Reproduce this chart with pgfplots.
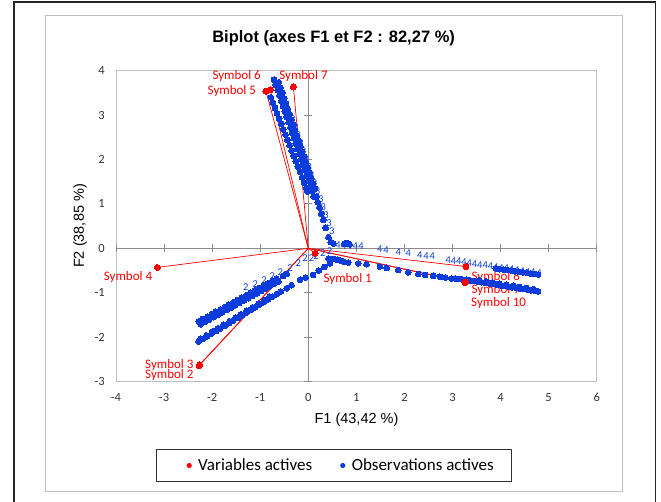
\documentclass[border=0pt]{standalone}
\usepackage{pgfplots}
\pgfplotsset{compat=1.18}
\usepackage{pgfplotstable}
\usepackage{fontspec}
\setmainfont{Carlito}
\newfontfamily\arialf{Liberation Sans}
\definecolor{obsblue}{RGB}{10,60,220}
\definecolor{varred}{RGB}{255,0,0}
\definecolor{boxgray}{RGB}{191,191,191}
\definecolor{zerogray}{RGB}{140,140,140}

\pgfplotstableread{
x y
-0.780 3.40
-0.737 3.28
-0.693 3.16
-0.650 3.04
-0.606 2.92
-0.563 2.80
-0.520 2.68
-0.476 2.56
-0.433 2.44
-0.389 2.32
-0.346 2.20
-0.303 2.08
-0.259 1.96
-0.216 1.84
-0.172 1.72
-0.129 1.60
-0.086 1.48
-0.042 1.36
-0.013 1.28
-0.713 3.80
-0.675 3.68
-0.638 3.56
-0.600 3.44
-0.563 3.32
-0.525 3.20
-0.487 3.08
-0.450 2.96
-0.412 2.84
-0.374 2.72
-0.337 2.60
-0.299 2.48
-0.261 2.36
-0.224 2.24
-0.186 2.12
-0.149 2.00
-0.111 1.88
-0.073 1.76
-0.036 1.64
0.002 1.52
0.040 1.40
0.077 1.28
0.115 1.16
-0.614 3.74
-0.576 3.62
-0.539 3.50
-0.501 3.38
-0.464 3.26
-0.426 3.14
-0.388 3.02
-0.351 2.90
-0.313 2.78
-0.275 2.66
-0.238 2.54
-0.200 2.42
-0.162 2.30
-0.125 2.18
-0.087 2.06
-0.050 1.94
-0.012 1.82
0.026 1.70
0.063 1.58
0.101 1.46
0.139 1.34
0.17 1.16
0.20 1.04
0.23 0.92
0.27 0.78
0.31 0.64
0.36 0.46
0.42 0.25
0.47 0.14
0.52 0.11
0.75 0.10
0.80 0.12
0.86 0.09
3.90 -0.45
3.98 -0.47
4.06 -0.48
4.14 -0.49
4.22 -0.50
4.30 -0.52
4.38 -0.53
4.46 -0.54
4.54 -0.55
4.62 -0.57
4.70 -0.58
4.78 -0.59
0.42 -0.23
0.52 -0.24
0.60 -0.26
0.66 -0.27
0.74 -0.30
0.83 -0.32
1.04 -0.34
1.21 -0.36
1.49 -0.41
1.63 -0.44
1.87 -0.49
2.08 -0.54
2.29 -0.58
2.43 -0.60
2.60 -0.62
2.74 -0.64
2.85 -0.66
2.98 -0.68
3.06 -0.68
3.12 -0.69
3.20 -0.70
3.29 -0.71
3.36 -0.722
3.44 -0.736
3.52 -0.750
3.60 -0.764
3.68 -0.778
3.76 -0.792
3.84 -0.806
3.92 -0.820
4.00 -0.834
4.08 -0.848
4.16 -0.862
4.24 -0.876
4.32 -0.890
4.40 -0.904
4.48 -0.918
4.56 -0.932
4.64 -0.946
4.72 -0.960
4.78 -0.970
3.56 -0.72
3.70 -0.745
3.84 -0.77
3.98 -0.795
4.12 -0.82
4.26 -0.845
4.40 -0.87
4.54 -0.895
4.68 -0.92
-2.28 -2.100
-2.19 -2.041
-2.10 -1.982
-2.01 -1.922
-1.92 -1.863
-1.83 -1.804
-1.74 -1.745
-1.65 -1.685
-1.56 -1.626
-1.47 -1.567
-1.38 -1.508
-1.29 -1.448
-1.20 -1.389
-1.11 -1.330
-1.02 -1.271
-0.93 -1.212
-0.84 -1.152
-0.75 -1.093
-0.66 -1.034
-0.57 -0.974
-0.45 -0.90
-0.35 -0.83
-0.17 -0.71
-0.06 -0.66
0.10 -0.60
0.22 -0.50
0.33 -0.42
0.45 -0.34
-2.24 -2.039
-2.12 -1.960
-2.00 -1.881
-1.88 -1.802
-1.76 -1.723
-1.64 -1.644
-1.52 -1.566
-1.40 -1.487
-1.28 -1.408
-1.16 -1.329
-1.04 -1.250
-0.92 -1.171
-0.80 -1.091
-2.28 -1.645
-2.19 -1.591
-2.10 -1.538
-2.01 -1.484
-1.92 -1.431
-1.83 -1.377
-1.74 -1.324
-1.65 -1.270
-1.56 -1.216
-1.47 -1.163
-1.38 -1.109
-1.29 -1.056
-1.20 -1.002
-1.11 -0.949
-1.02 -0.895
-0.93 -0.841
-0.84 -0.788
-0.75 -0.734
-0.66 -0.681
-2.24 -1.711
-2.15 -1.658
-2.06 -1.604
-1.97 -1.551
-1.88 -1.497
-1.79 -1.443
-1.70 -1.390
-1.61 -1.336
-1.52 -1.283
-1.43 -1.229
-1.34 -1.176
-1.25 -1.122
-1.16 -1.068
-1.07 -1.015
-0.98 -0.961
-0.89 -0.908
-0.80 -0.854
-0.71 -0.801
-0.62 -0.747
-0.52 -0.62
-0.45 -0.58
}\obsdata

\pgfplotstableread{
x y lab
0.62 0.07 4
0.74 0.06 4
0.86 0.06 4
0.98 0.05 4
1.10 0.04 4
1.49 -0.01 4
1.62 -0.03 4
1.87 -0.08 4
2.08 -0.11 4
2.32 -0.15 4
2.45 -0.17 4
2.58 -0.18 4
2.91 -0.26 4
3.02 -0.28 4
3.13 -0.29 4
3.24 -0.31 4
3.35 -0.33 4
3.46 -0.35 4
3.57 -0.37 4
3.68 -0.38 4
3.79 -0.40 4
3.90 -0.42 4
4.01 -0.44 4
4.12 -0.45 4
4.23 -0.47 4
4.34 -0.49 4
4.45 -0.51 4
4.56 -0.53 4
4.67 -0.54 4
4.80 -0.56 4
-1.30 -0.88 2
-1.10 -0.80 2
-0.92 -0.72 2
-0.75 -0.62 2
-0.58 -0.53 2
-0.38 -0.45 2
-0.21 -0.34 2
-0.07 -0.23 2
0.07 -0.23 2
0.16 -0.18 2
0.30 -0.10 2
0.44 -0.06 2
-0.32 2.90 3
-0.26 2.72 3
-0.21 2.54 3
-0.15 2.36 3
-0.10 2.18 3
-0.04 2.00 3
0.02 1.82 3
0.07 1.64 3
0.13 1.46 3
0.19 1.28 3
0.26 1.10 3
0.31 0.92 3
0.37 0.74 3
0.43 0.56 3
0.49 0.38 3
}\obslabels

\pgfplotstableread{
x y
0.14 -0.11
-2.27 -2.64
-2.26 -2.62
-3.14 -0.43
-0.88 3.54
-0.79 3.57
-0.31 3.64
3.28 -0.41
3.26 -0.77
3.27 -0.76
}\vardata

\begin{document}
\begin{tikzpicture}
\useasboundingbox (0pt,0pt) rectangle (661pt,502pt);
\fill[white] (0pt,0pt) rectangle (661pt,502pt);
\draw[black!85, line width=1.5pt] (14pt,-3pt) -- (14pt,500.2pt) -- (655.7pt,500.2pt) -- (655.7pt,-3pt);
\draw[boxgray, line width=0.9pt] (45.6pt,10.3pt) rectangle (622.3pt,487pt);

\begin{axis}[
  at={(116pt,120.5pt)}, anchor=south west,
  scale only axis, width=480.7pt, height=310.8pt,
  xmin=-4, xmax=6, ymin=-3, ymax=4,
  xtick={-4,-3,...,6}, ytick={-3,-2,...,4},
  axis line style={draw=boxgray, line width=0.9pt},
  major tick length=0pt,
  /pgf/number format/assume math mode=true,
  tick label style={font=\fontsize{12.5}{14}\selectfont, text=black!80},
  xticklabel style={yshift=-8.3pt},
  yticklabel style={xshift=-7.8pt},
  clip=false,
  legend columns=2,
  legend cell align=left,
  legend style={
    at={(0.4535,-0.2703)}, anchor=center,
    draw=black!80, line width=0.8pt, fill=white,
    inner xsep=14.4pt, inner ysep=6pt,
    font=\fontsize{17}{20}\selectfont,
    nodes={inner xsep=3pt, inner ysep=3pt},
    /tikz/every odd column/.append style={column sep=3.4pt},
    /tikz/every even column/.append style={column sep=9.5pt},
  },
]
\addlegendimage{legend image code/.code={\path[draw=none,fill=none] (-18pt,-2.6pt) rectangle (2.6pt,2.6pt); \fill[varred, draw=none] (0pt,0pt) circle (2.6pt);}}
\addlegendentry{Variables actives}
\addlegendimage{legend image code/.code={\path[draw=none,fill=none] (-18pt,-2.6pt) rectangle (2.6pt,2.6pt); \fill[obsblue, draw=none] (0pt,0pt) circle (2.6pt);}}
\addlegendentry{Observations actives}

% zero lines with cross ticks
\draw[zerogray, line width=0.8pt] (axis cs:0,-3) -- (axis cs:0,4);
\draw[zerogray, line width=0.8pt] (axis cs:-4,0) -- (axis cs:6,0);
\pgfplotsinvokeforeach{-3,-2,-1,1,2,3,4}{\draw[zerogray, line width=0.8pt] ([xshift=-4pt]axis cs:0,#1) -- ([xshift=4pt]axis cs:0,#1);}
\pgfplotsinvokeforeach{-4,-3,-2,-1,1,2,3,4,5,6}{\draw[zerogray, line width=0.8pt] ([yshift=-4pt]axis cs:#1,0) -- ([yshift=4pt]axis cs:#1,0);}

% observations
\addplot[forget plot, only marks, mark=*, mark size=2.9pt, color=obsblue, mark options={draw=obsblue, fill=obsblue, line width=0pt}] table[x=x,y=y] {\obsdata};
\addplot[forget plot, only marks, mark=none, nodes near coords, point meta=explicit symbolic,
  every node near coord/.append style={anchor=center, inner sep=0pt, text=obsblue, font=\fontsize{10.5}{11}\selectfont}]
  table[x=x,y=y,meta=lab] {\obslabels};

% variables: vectors from origin
\addplot[forget plot, varred, line width=0.7pt] coordinates {(0,0) (0.14,-0.11)};
\addplot[forget plot, varred, line width=0.7pt] coordinates {(0,0) (-2.27,-2.64)};
\addplot[forget plot, varred, line width=0.7pt] coordinates {(0,0) (-2.26,-2.62)};
\addplot[forget plot, varred, line width=0.7pt] coordinates {(0,0) (-3.14,-0.43)};
\addplot[forget plot, varred, line width=0.7pt] coordinates {(0,0) (-0.88,3.54)};
\addplot[forget plot, varred, line width=0.7pt] coordinates {(0,0) (-0.79,3.57)};
\addplot[forget plot, varred, line width=0.7pt] coordinates {(0,0) (-0.31,3.64)};
\addplot[forget plot, varred, line width=0.7pt] coordinates {(0,0) (3.28,-0.41)};
\addplot[forget plot, varred, line width=0.7pt] coordinates {(0,0) (3.26,-0.77)};
\addplot[forget plot, varred, line width=0.7pt] coordinates {(0,0) (3.27,-0.76)};
\addplot[forget plot, only marks, mark=*, mark size=3pt, mark options={draw=varred, fill=varred, line width=0pt}] table[x=x,y=y] {\vardata};

% variable labels
\begin{scope}[every node/.style={text=varred, font=\fontsize{13}{15}\selectfont, inner sep=0pt}]
\node at (axis cs:-1.49,3.88) {Symbol 6};
\node at (axis cs:-1.59,3.54) {Symbol 5};
\node at (axis cs:-0.10,3.88) {Symbol 7};
\node at (axis cs:-3.75,-0.64) {Symbol 4};
\node at (axis cs:-2.89,-2.63) {Symbol 3};
\node at (axis cs:-2.89,-2.85) {Symbol 2};
\node at (axis cs:0.82,-0.69) {Symbol 1};
\node at (axis cs:3.90,-0.64) {Symbol 8};
\node at (axis cs:3.90,-0.95) {Symbol 9};
\node at (axis cs:3.96,-1.24) {Symbol 10};
\end{scope}
\end{axis}

\node[font=\arialf\bfseries\fontsize{16.5}{19}\selectfont] at (333.6pt,463.7pt) {Biplot (axes F1 et F2 : 82,27 \%)};
\node[font=\arialf\fontsize{14.5}{17}\selectfont] at (356.5pt,82pt) {F1 (43,42 \%)};
\node[font=\arialf\fontsize{14.5}{17}\selectfont, rotate=90] at (80pt,276pt) {F2 (38,85 \%)};
\end{tikzpicture}
\end{document}
